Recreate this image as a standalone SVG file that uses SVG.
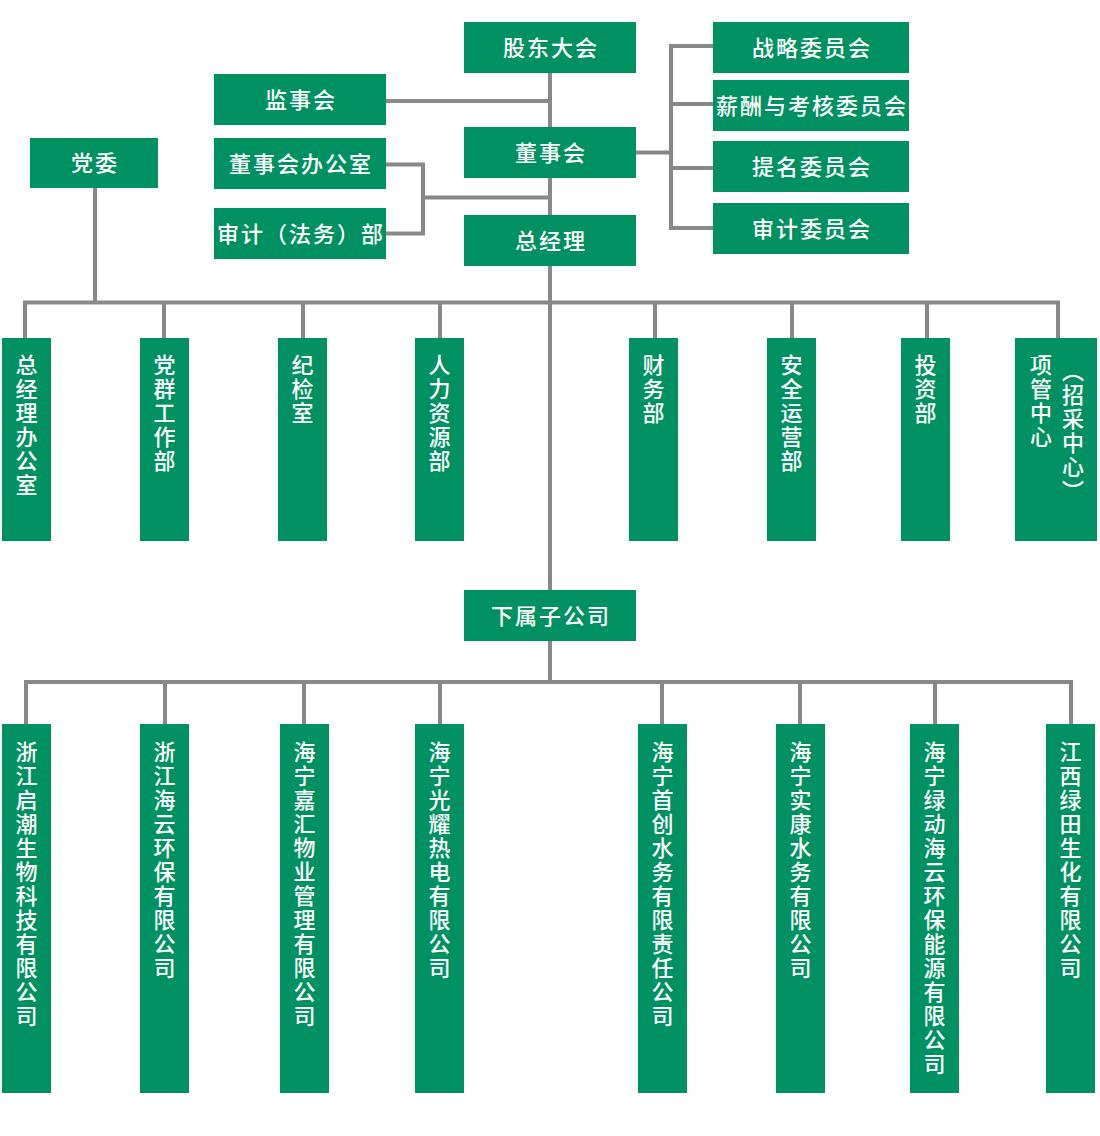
<svg xmlns="http://www.w3.org/2000/svg" width="1100" height="1136" viewBox="0 0 1100 1136">
<style>
.n{fill:#009162}
.t{fill:#ffffff;font-family:"Noto Sans CJK SC","Noto Sans",sans-serif;font-size:22px;font-weight:500;letter-spacing:2px;text-anchor:middle;dominant-baseline:central}
.v{fill:#ffffff;font-family:"Noto Sans CJK SC","Noto Sans",sans-serif;font-size:22px;font-weight:500;letter-spacing:2px;writing-mode:vertical-rl;text-anchor:start}
.c{fill:none;stroke:#888888;stroke-width:4}
</style>
<rect width="1100" height="1136" fill="#ffffff"/>
<g id="connectors" class="c">
<path d="M550,73V590M550,640V682"/>
<path d="M386,101H550"/>
<path d="M386,164.5H423V233.5H386M423,197.5H550"/>
<path d="M636,152.5H671M713,46H671V228H713M671,104H713M671,168H713"/>
<path d="M95,188V302.5"/>
<path d="M25,338V302.5H1058V338M164,302.5V338M303,302.5V338M440,302.5V338M655,302.5V338M792,302.5V338M927,302.5V338"/>
<path d="M26,724V682H1071V724M165,682V724M304,682V724M440,682V724M662,682V724M800,682V724M935,682V724"/>
</g>
<g id="n-gudong"><rect class="n" x="464" y="22" width="172" height="51"/><text class="t" x="551" y="45.5">股东大会</text></g>
<g id="n-jianshi"><rect class="n" x="214" y="74" width="172" height="51"/><text class="t" x="301" y="97.5">监事会</text></g>
<g id="n-dongban"><rect class="n" x="214" y="138" width="172" height="51"/><text class="t" x="301" y="161.5">董事会办公室</text></g>
<g id="n-shenji"><rect class="n" x="214" y="208" width="172" height="51"/><text class="t" x="301" y="231.5">审计（法务）部</text></g>
<g id="n-dongshi"><rect class="n" x="464" y="127" width="172" height="51"/><text class="t" x="551" y="150.5">董事会</text></g>
<g id="n-zongjingli"><rect class="n" x="464" y="215" width="172" height="51"/><text class="t" x="551" y="238.5">总经理</text></g>
<g id="n-zhanlue"><rect class="n" x="713" y="22" width="196" height="51"/><text class="t" x="812" y="45.5">战略委员会</text></g>
<g id="n-xinchou"><rect class="n" x="713" y="80" width="196" height="51"/><text class="t" x="812" y="103.5">薪酬与考核委员会</text></g>
<g id="n-timing"><rect class="n" x="713" y="141" width="196" height="51"/><text class="t" x="812" y="164.5">提名委员会</text></g>
<g id="n-shenjiwei"><rect class="n" x="713" y="203" width="196" height="51"/><text class="t" x="812" y="226.5">审计委员会</text></g>
<g id="n-dangwei"><rect class="n" x="30" y="138" width="128" height="50"/><text class="t" x="95" y="161">党委</text></g>
<g id="n-d1"><rect class="n" x="2" y="338" width="49" height="203"/><text class="v" x="26.5" y="354">总经理办公室</text></g>
<g id="n-d2"><rect class="n" x="140" y="338" width="49" height="203"/><text class="v" x="164.5" y="354">党群工作部</text></g>
<g id="n-d3"><rect class="n" x="278" y="338" width="49" height="203"/><text class="v" x="302.5" y="354">纪检室</text></g>
<g id="n-d4"><rect class="n" x="415" y="338" width="49" height="203"/><text class="v" x="439.5" y="354">人力资源部</text></g>
<g id="n-d5"><rect class="n" x="629" y="338" width="49" height="203"/><text class="v" x="653.5" y="354">财务部</text></g>
<g id="n-d6"><rect class="n" x="767" y="338" width="49" height="203"/><text class="v" x="791.5" y="354">安全运营部</text></g>
<g id="n-d7"><rect class="n" x="901" y="338" width="49" height="203"/><text class="v" x="925.5" y="354">投资部</text></g>
<g id="n-d8"><rect class="n" x="1015" y="338" width="82" height="203"/><text class="v" x="1041" y="354">项管中心</text><text class="v" x="1073" y="360">（招采中心）</text></g>
<g id="n-xiashu"><rect class="n" x="464" y="590" width="172" height="51"/><text class="t" x="551" y="613.5">下属子公司</text></g>
<g id="n-s1"><rect class="n" x="2" y="724" width="49" height="369"/><text class="v" x="26.5" y="741">浙江启潮生物科技有限公司</text></g>
<g id="n-s2"><rect class="n" x="140" y="724" width="49" height="369"/><text class="v" x="164.5" y="741">浙江海云环保有限公司</text></g>
<g id="n-s3"><rect class="n" x="280" y="724" width="49" height="369"/><text class="v" x="304.5" y="741">海宁嘉汇物业管理有限公司</text></g>
<g id="n-s4"><rect class="n" x="415" y="724" width="49" height="369"/><text class="v" x="439.5" y="741">海宁光耀热电有限公司</text></g>
<g id="n-s5"><rect class="n" x="638" y="724" width="49" height="369"/><text class="v" x="662.5" y="741">海宁首创水务有限责任公司</text></g>
<g id="n-s6"><rect class="n" x="776" y="724" width="49" height="369"/><text class="v" x="800.5" y="741">海宁实康水务有限公司</text></g>
<g id="n-s7"><rect class="n" x="910" y="724" width="49" height="369"/><text class="v" x="934.5" y="741">海宁绿动海云环保能源有限公司</text></g>
<g id="n-s8"><rect class="n" x="1046" y="724" width="49" height="369"/><text class="v" x="1070.5" y="741">江西绿田生化有限公司</text></g>
</svg>
